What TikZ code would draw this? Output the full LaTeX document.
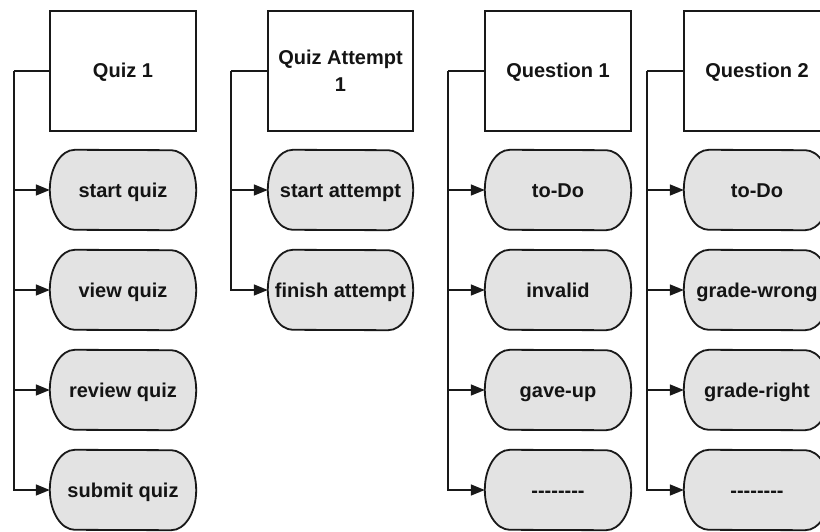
\documentclass[tikz,border=0pt]{standalone}
\usepackage{fontspec}
\setmainfont{Liberation Sans}
\usetikzlibrary{arrows.meta}
\begin{document}
\begin{tikzpicture}[x=1pt,y=-1pt,
  every node/.style={font=\fontsize{20}{27.5}\selectfont\bfseries, text=black!92, inner sep=0pt},
  entity/.style={draw=black!90, line width=1.8pt, fill=white, minimum width=146pt, minimum height=120pt, align=center},
  state/.style={minimum width=146pt, minimum height=80pt},
  pill/.style={draw=black!90, line width=1.8pt, fill=black!11},
  label/.style={anchor=base},
  link/.style={draw=black!90, line width=1.6pt},
  arr/.style={link, -{Triangle[length=14pt,width=11pt]}}]
\useasboundingbox (0,0) rectangle (820,532);
\clip (0,0) rectangle (820,532);

% outline of a state node: flat top and bottom, elliptic ends
\def\pillpath#1{%
  \path[pill] ([xshift=25pt]#1.north west)
    arc[start angle=90, end angle=270, x radius=25pt, y radius=40pt]
    -- ([xshift=-25pt]#1.south east)
    arc[start angle=-90, end angle=90, x radius=25pt, y radius=40pt]
    -- cycle;}

% Quiz 1
\node[entity] (quiz) at (123,71) {};
\node[state] (sq) at (123,190) {};
\node[state] (vq) at (123,290) {};
\node[state] (rq) at (123,390) {};
\node[state] (bq) at (123,490) {};

% Quiz Attempt 1
\node[entity, minimum width=145pt] (att) at (340.5,71) {Quiz Attempt\\1};
\node[state, minimum width=145pt] (sa) at (340.5,190) {};
\node[state, minimum width=145pt] (fa) at (340.5,290) {};

% Question 1
\node[entity] (qa) at (558,71) {};
\node[state] (qa1) at (558,190) {};
\node[state] (qa2) at (558,290) {};
\node[state] (qa3) at (558,390) {};
\node[state] (qa4) at (558,490) {};

% Question 2
\node[entity] (qb) at (757,71) {};
\node[state] (qb1) at (757,190) {};
\node[state] (qb2) at (757,290) {};
\node[state] (qb3) at (757,390) {};
\node[state] (qb4) at (757,490) {};

% state outlines
\foreach \n in {sq,vq,rq,bq,sa,fa,qa1,qa2,qa3,qa4,qb1,qb2,qb3,qb4} {\pillpath{\n}}

% single-line labels, all set on a common baseline below the centre
\foreach \n/\t in {quiz/Quiz 1, qa/Question 1, qb/Question 2,
  sq/start quiz, vq/view quiz, rq/review quiz, bq/submit quiz,
  sa/start attempt, fa/finish attempt,
  qa1/to-Do, qa2/invalid, qa3/gave-up, qa4/-{}-{}-{}-{}-{}-{}-{}-,
  qb1/to-Do, qb2/grade-wrong, qb3/grade-right, qb4/-{}-{}-{}-{}-{}-{}-{}-}
  \node[label] (\n-text) at ([yshift=-7pt]\n.center) {\t};

% connectors from each entity down its trunk
\coordinate (t1) at (14,71);
\draw[link] (quiz.west) -- (t1);
\draw[arr] (t1) |- (bq.west);
\foreach \n in {sq,vq,rq} \draw[arr] (t1 |- \n.west) -- (\n.west);

\coordinate (t2) at (231,71);
\draw[link] (att.west) -- (t2);
\draw[arr] (t2) |- (fa.west);
\draw[arr] (t2 |- sa.west) -- (sa.west);

\coordinate (t3) at (448,71);
\draw[link] (qa.west) -- (t3);
\draw[arr] (t3) |- (qa4.west);
\foreach \n in {qa1,qa2,qa3} \draw[arr] (t3 |- \n.west) -- (\n.west);

\coordinate (t4) at (647,71);
\draw[link] (qb.west) -- (t4);
\draw[arr] (t4) |- (qb4.west);
\foreach \n in {qb1,qb2,qb3} \draw[arr] (t4 |- \n.west) -- (\n.west);
\end{tikzpicture}
\end{document}
